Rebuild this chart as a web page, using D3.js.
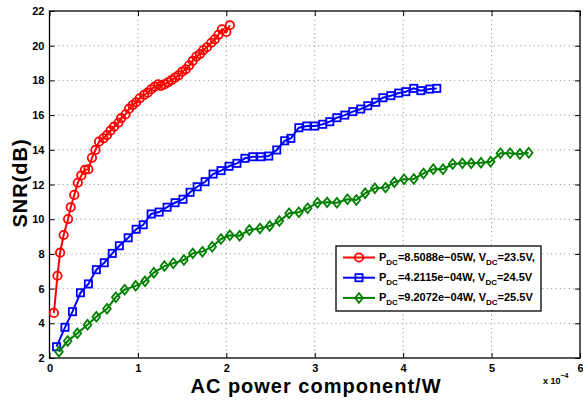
<!DOCTYPE html>
<html>
<head>
<meta charset="utf-8">
<script src="https://cdn.jsdelivr.net/npm/d3@7"></script>
<style>
  html, body { margin: 0; padding: 0; background: #fff; }
  svg { display: block; font-family: "Liberation Sans", Arial, Helvetica, sans-serif; }
</style>
</head>
<body>
<svg id="chart" width="583" height="400"></svg>
<script>
// ---- data (x in units of 1e-4 W, y in dB) ----
const redX = [0.05,0.09,0.12,0.16,0.21,0.24,0.28,0.32,0.36,0.40,0.44,0.48,0.52,0.56,0.61,0.65,0.69,0.73,0.78,0.81,0.86,0.90,0.94,0.98,1.02,1.07,1.11,1.15,1.19,1.23,1.26,1.30,1.34,1.38,1.42,1.46,1.50,1.54,1.58,1.62,1.66,1.70,1.74,1.78,1.83,1.87,1.91,1.95,2.00,2.04];
const redY = [4.6,6.74,8.07,9.09,10.01,10.69,11.4,12.1,12.52,12.84,12.88,13.54,13.99,14.47,14.66,14.85,15.1,15.33,15.56,15.82,16.04,16.37,16.58,16.74,16.97,17.16,17.29,17.49,17.64,17.77,17.68,17.77,17.89,18.02,18.16,18.29,18.5,18.64,18.87,19.12,19.37,19.52,19.75,19.91,20.17,20.37,20.63,20.94,20.79,21.18];

const blueX = [0.08,0.175,0.26,0.35,0.44,0.53,0.62,0.71,0.79,0.89,0.98,1.06,1.15,1.24,1.33,1.42,1.51,1.59,1.67,1.76,1.85,1.94,2.03,2.12,2.21,2.30,2.39,2.48,2.57,2.66,2.73,2.82,2.91,3.0,3.09,3.17,3.25,3.34,3.43,3.52,3.6,3.69,3.77,3.86,3.95,4.03,4.12,4.2,4.3,4.38];
const blueY = [2.65,3.77,4.67,5.76,6.27,7.09,7.49,8.03,8.47,8.93,9.42,9.68,10.30,10.41,10.69,10.95,11.15,11.55,11.87,12.16,12.6,12.8,13.05,13.22,13.51,13.6,13.6,13.64,13.99,14.52,14.66,15.27,15.37,15.37,15.47,15.62,15.85,16.0,16.2,16.35,16.54,16.74,17.0,17.12,17.27,17.35,17.54,17.41,17.5,17.54];

const greenX = [0.107,0.206,0.315,0.43,0.53,0.65,0.75,0.85,0.975,1.08,1.18,1.30,1.40,1.52,1.62,1.73,1.84,1.94,2.04,2.15,2.26,2.38,2.49,2.60,2.71,2.82,2.92,3.03,3.14,3.25,3.37,3.47,3.57,3.68,3.80,3.90,4.01,4.12,4.23,4.34,4.45,4.56,4.67,4.77,4.88,4.99,5.10,5.21,5.32,5.42];
const greenY = [2.36,2.98,3.42,3.92,4.38,4.84,5.5,5.94,6.16,6.42,6.92,7.3,7.46,7.65,8.03,8.13,8.41,8.86,9.07,9.05,9.38,9.47,9.61,9.89,10.34,10.40,10.63,10.95,10.97,10.95,11.15,11.11,11.49,11.78,11.82,12.13,12.3,12.32,12.64,12.88,12.88,13.18,13.22,13.22,13.26,13.31,13.8,13.8,13.76,13.83];

const xTicks = [0,1,2,3,4,5,6];
const yTicks = [2,4,6,8,10,12,14,16,18,20,22];

const legendLabels = [
  {p: "=8.5088e\u221205W, V", v: "=23.5V,"},
  {p: "=4.2115e\u221204W, V", v: "=24.5V"},
  {p: "=9.2072e\u221204W, V", v: "=25.5V"}
];

const series = [
  {x: redX, y: redY, color: "#ff0000", marker: "circle"},
  {x: blueX, y: blueY, color: "#0000ff", marker: "square"},
  {x: greenX, y: greenY, color: "#008000", marker: "diamond"}
];

// ---- layout ----
const L = 49.5, R = 580, T = 11, B = 358;
const svg = d3.select("#chart");
const x = d3.scaleLinear().domain([0, 6]).range([L, R]);
const y = d3.scaleLinear().domain([2, 22]).range([B, T]);

// grid
const grid = svg.append("g");
grid.selectAll("line.gx").data(xTicks.slice(1, -1)).join("line")
  .attr("x1", d => x(d)).attr("x2", d => x(d)).attr("y1", T).attr("y2", B)
  .attr("stroke", "#8c8c8c").attr("stroke-width", 1).attr("stroke-dasharray", "1,3.4");
grid.selectAll("line.gy").data(yTicks.slice(1, -1)).join("line")
  .attr("x1", L).attr("x2", R).attr("y1", d => y(d)).attr("y2", d => y(d))
  .attr("stroke", "#8c8c8c").attr("stroke-width", 1).attr("stroke-dasharray", "1,3.4");

// axes (inward ticks on all four sides)
const tickLen = 5;
const fmt = d3.format("d");
const gB = svg.append("g").attr("transform", `translate(0,${B})`)
  .call(d3.axisBottom(x).tickValues(xTicks).tickFormat(fmt).tickSizeInner(-tickLen).tickSizeOuter(0).tickPadding(6));
const gT = svg.append("g").attr("transform", `translate(0,${T})`)
  .call(d3.axisTop(x).tickValues(xTicks).tickFormat("").tickSizeInner(-tickLen).tickSizeOuter(0));
const gL = svg.append("g").attr("transform", `translate(${L},0)`)
  .call(d3.axisLeft(y).tickValues(yTicks).tickFormat(fmt).tickSizeInner(-tickLen).tickSizeOuter(0).tickPadding(5));
const gR = svg.append("g").attr("transform", `translate(${R},0)`)
  .call(d3.axisRight(y).tickValues(yTicks).tickFormat("").tickSizeInner(-tickLen).tickSizeOuter(0));
[gB, gT, gL, gR].forEach(g => {
  g.select(".domain").remove();
  g.selectAll(".tick line").attr("stroke", "#000").attr("stroke-width", 1);
  g.selectAll(".tick text").attr("fill", "#000").attr("font-size", 11).attr("font-weight", "bold")
    .attr("font-family", "'Liberation Sans', Arial, sans-serif");
});

// box
svg.append("rect").attr("x", L).attr("y", T).attr("width", R - L).attr("height", B - T)
  .attr("fill", "none").attr("stroke", "#000").attr("stroke-width", 1.3);

// markers
function drawMarker(g, type, cx, cy, color) {
  if (type === "circle") {
    g.append("circle").attr("cx", cx).attr("cy", cy).attr("r", 4.2)
      .attr("fill", "none").attr("stroke", color).attr("stroke-width", 1.8);
  } else if (type === "square") {
    g.append("rect").attr("x", cx - 3.6).attr("y", cy - 3.6).attr("width", 7.2).attr("height", 7.2)
      .attr("fill", "none").attr("stroke", color).attr("stroke-width", 1.8);
  } else {
    const s = 4.8;
    g.append("path").attr("d", `M${cx},${cy - s}L${cx + s * 0.8},${cy}L${cx},${cy + s}L${cx - s * 0.8},${cy}Z`)
      .attr("fill", "none").attr("stroke", color).attr("stroke-width", 1.8);
  }
}

const line = d3.line().x(d => x(d[0])).y(d => y(d[1]));
series.forEach(s => {
  const pts = s.x.map((v, i) => [v, s.y[i]]);
  const g = svg.append("g");
  g.append("path").attr("d", line(pts)).attr("fill", "none")
    .attr("stroke", s.color).attr("stroke-width", 2);
  pts.forEach(p => drawMarker(g, s.marker, x(p[0]), y(p[1]), s.color));
});

// axis labels
svg.append("text").attr("x", 316).attr("y", 393).attr("text-anchor", "middle")
  .attr("font-size", 20).attr("letter-spacing", 1).attr("font-weight", "bold").text("AC power component/W");
svg.append("text").attr("transform", `translate(27,183) rotate(-90)`).attr("text-anchor", "middle")
  .attr("font-size", 20).attr("letter-spacing", 1).attr("font-weight", "bold").text("SNR(dB)");

// exponent
const ex = svg.append("text").attr("x", 543).attr("y", 384).attr("font-size", 9).attr("font-weight", "bold");
ex.append("tspan").text("x 10");
ex.append("tspan").attr("dy", -6).attr("font-size", 7).text("\u22124");

// legend
const lg = svg.append("g");
lg.append("rect").attr("x", 336).attr("y", 246).attr("width", 205).attr("height", 65)
  .attr("fill", "#fff").attr("stroke", "#000").attr("stroke-width", 1.3);
series.forEach((s, i) => {
  const ly = 257.5 + i * 20.2;
  lg.append("line").attr("x1", 343).attr("x2", 375).attr("y1", ly).attr("y2", ly)
    .attr("stroke", s.color).attr("stroke-width", 2);
  drawMarker(lg, s.marker, 359, ly, s.color);
  const t = lg.append("text").attr("x", 379).attr("y", ly + 3.5)
    .attr("font-size", 11).attr("font-weight", "bold");
  t.append("tspan").text("P");
  t.append("tspan").attr("dy", 4).attr("font-size", 8).text("DC");
  t.append("tspan").attr("dy", -4).text(legendLabels[i].p);
  t.append("tspan").attr("dy", 4).attr("font-size", 8).text("DC");
  t.append("tspan").attr("dy", -4).text(legendLabels[i].v);
});
</script>
</body>
</html>
